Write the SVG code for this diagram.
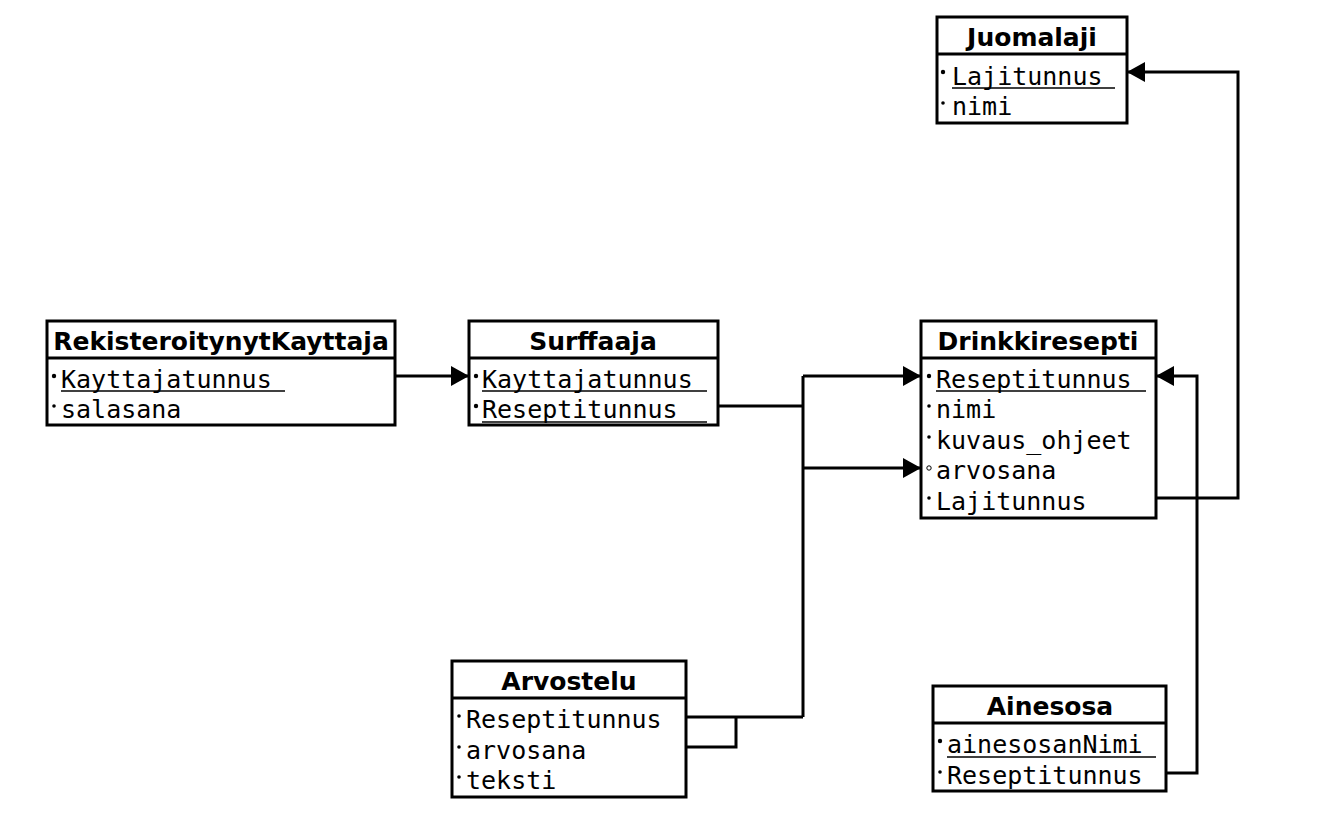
<svg xmlns="http://www.w3.org/2000/svg" width="1337" height="813" viewBox="0 0 1337 813">
<defs>
<style>
.box{fill:#fff;stroke:#000;stroke-width:3}
.sep{stroke:#000;stroke-width:3}
.title{font-family:"DejaVu Sans",sans-serif;font-weight:bold;font-size:25px;text-anchor:middle;fill:#000}
.attr{font-family:"DejaVu Sans Mono",monospace;font-size:25px;fill:#000}
.ul{stroke:#000;stroke-width:1.5}
.dot{fill:#000}
.hdot{fill:#fff;stroke:#000;stroke-width:1}
.con{fill:none;stroke:#000;stroke-width:3}
</style>
<marker id="arr" viewBox="0 0 18 20" refX="18" refY="10" markerWidth="18" markerHeight="20" markerUnits="userSpaceOnUse" orient="auto">
<path d="M0,0 L18,10 L0,20 Z" fill="#000"/>
</marker>
</defs>
<rect width="1337" height="813" fill="#fff"/>
<g id="connectors">
<path class="con" d="M395,376 H469" marker-end="url(#arr)"/>
<path class="con" d="M718,406 H803"/>
<path class="con" d="M803,376 V717"/>
<path class="con" d="M803,376 H921" marker-end="url(#arr)"/>
<path class="con" d="M803,468 H921" marker-end="url(#arr)"/>
<path class="con" d="M686,717 H803"/>
<path class="con" d="M686,747 H736 V717"/>
<path class="con" d="M1156,498 H1238 V72 H1127" marker-end="url(#arr)"/>
<path class="con" d="M1166,773 H1197 V376 H1156" marker-end="url(#arr)"/>
</g>
<g id="Juomalaji">
<rect class="box" x="937" y="17" width="190" height="106"/>
<line class="sep" x1="937" y1="54" x2="1127" y2="54"/>
<text class="title" x="1032" y="46">Juomalaji</text>
<circle class="dot" cx="943" cy="72" r="2.2"/>
<text class="attr" x="952" y="85">Lajitunnus</text>
<line class="ul" x1="952" y1="88" x2="1115" y2="88"/>
<circle class="dot" cx="943" cy="103" r="1.8"/>
<text class="attr" x="952" y="115">nimi</text>
</g>
<g id="RekisteroitynytKayttaja">
<rect class="box" x="47" y="321" width="348" height="104"/>
<line class="sep" x1="47" y1="358" x2="395" y2="358"/>
<text class="title" x="221" y="350">RekisteroitynytKayttaja</text>
<circle class="dot" cx="54" cy="376" r="2.2"/>
<text class="attr" x="61" y="388">Kayttajatunnus</text>
<line class="ul" x1="61" y1="391" x2="285" y2="391"/>
<circle class="dot" cx="54" cy="406" r="1.8"/>
<text class="attr" x="61" y="418">salasana</text>
</g>
<g id="Surffaaja">
<rect class="box" x="469" y="321" width="249" height="104"/>
<line class="sep" x1="469" y1="358" x2="718" y2="358"/>
<text class="title" x="593" y="350">Surffaaja</text>
<circle class="dot" cx="476" cy="376" r="2.2"/>
<text class="attr" x="482" y="388">Kayttajatunnus</text>
<line class="ul" x1="482" y1="391" x2="707" y2="391"/>
<circle class="dot" cx="476" cy="406" r="2.2"/>
<text class="attr" x="482" y="418">Reseptitunnus</text>
<line class="ul" x1="482" y1="422" x2="707" y2="422"/>
</g>
<g id="Drinkkiresepti">
<rect class="box" x="921" y="321" width="235" height="197"/>
<line class="sep" x1="921" y1="358" x2="1156" y2="358"/>
<text class="title" x="1038" y="350">Drinkkiresepti</text>
<circle class="dot" cx="929" cy="376" r="2.2"/>
<text class="attr" x="936" y="388">Reseptitunnus</text>
<line class="ul" x1="936" y1="391" x2="1146" y2="391"/>
<circle class="dot" cx="929" cy="406" r="1.8"/>
<text class="attr" x="936" y="418">nimi</text>
<circle class="dot" cx="929" cy="437" r="1.8"/>
<text class="attr" x="936" y="449">kuvaus_ohjeet</text>
<circle class="hdot" cx="929" cy="468" r="2.2"/>
<text class="attr" x="936" y="479">arvosana</text>
<circle class="dot" cx="929" cy="498" r="1.8"/>
<text class="attr" x="936" y="510">Lajitunnus</text>
</g>
<g id="Arvostelu">
<rect class="box" x="452" y="661" width="234" height="136"/>
<line class="sep" x1="452" y1="698" x2="686" y2="698"/>
<text class="title" x="569" y="690">Arvostelu</text>
<circle class="dot" cx="459" cy="716" r="1.8"/>
<text class="attr" x="466" y="728">Reseptitunnus</text>
<circle class="dot" cx="459" cy="747" r="1.8"/>
<text class="attr" x="466" y="759">arvosana</text>
<circle class="dot" cx="459" cy="777" r="1.8"/>
<text class="attr" x="466" y="789">teksti</text>
</g>
<g id="Ainesosa">
<rect class="box" x="933" y="686" width="233" height="105"/>
<line class="sep" x1="933" y1="723" x2="1166" y2="723"/>
<text class="title" x="1050" y="715">Ainesosa</text>
<circle class="dot" cx="940" cy="741" r="2.2"/>
<text class="attr" x="947" y="753">ainesosanNimi</text>
<line class="ul" x1="947" y1="757" x2="1156" y2="757"/>
<circle class="dot" cx="940" cy="772" r="1.8"/>
<text class="attr" x="947" y="784">Reseptitunnus</text>
</g>
</svg>
